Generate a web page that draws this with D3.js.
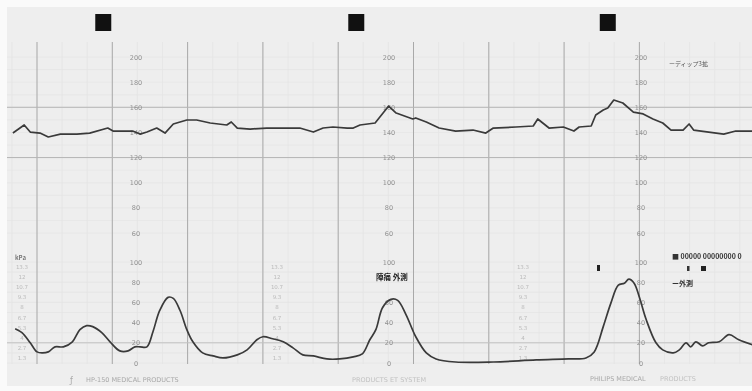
<!DOCTYPE html>
<html>
<head>
<meta charset="utf-8">
<script src="https://cdn.jsdelivr.net/npm/d3@7"></script>
<style>
  html, body { margin: 0; padding: 0; background: #fafafa; }
  svg { display: block; font-family: "Noto Sans CJK JP", "DejaVu Sans", sans-serif; will-change: transform; }
</style>
</head>
<body>
<div id="chart"></div>
<script>
// time in minutes, fetal heart rate in bpm
const fhrTrace = [
  [0.68, 139.5], [0.83, 145.9], [0.91, 140.3], [1.04, 139.5], [1.15, 136.4], [1.31, 138.7],
  [1.53, 138.7], [1.70, 139.5], [1.94, 143.5], [2.01, 141.1], [2.27, 141.1], [2.37, 138.7],
  [2.46, 140.3], [2.59, 143.5], [2.70, 139.5], [2.81, 146.7], [2.99, 149.9], [3.12, 149.9],
  [3.30, 147.5], [3.52, 145.9], [3.58, 148.3], [3.66, 143.5], [3.83, 142.7], [4.05, 143.5],
  [4.49, 143.5], [4.67, 140.3], [4.80, 143.5], [4.93, 144.3], [5.12, 143.5], [5.20, 143.5],
  [5.29, 145.9], [5.49, 147.5], [5.67, 161.0], [5.77, 155.4], [5.99, 150.7], [6.03, 151.5],
  [6.17, 148.3], [6.34, 143.5], [6.56, 141.1], [6.79, 141.9], [6.96, 139.5], [7.06, 143.5],
  [7.36, 144.3], [7.59, 145.1], [7.65, 150.7], [7.80, 143.5], [7.99, 144.3], [8.13, 141.1],
  [8.20, 144.3], [8.36, 145.1], [8.42, 153.9], [8.52, 157.8], [8.58, 159.4], [8.66, 165.8],
  [8.78, 163.4], [8.92, 156.2], [9.05, 154.7], [9.18, 150.7], [9.31, 147.5], [9.42, 141.9],
  [9.58, 141.9], [9.66, 146.7], [9.72, 141.9], [9.92, 140.3], [10.12, 138.7], [10.28, 141.1],
  [10.50, 141.1]
];

// time in minutes, uterine activity
const uaTrace = [
  [0.71, 34], [0.80, 30], [0.91, 20], [1.00, 11], [1.07, 10], [1.15, 11], [1.24, 16],
  [1.35, 16], [1.47, 21], [1.57, 33], [1.66, 37], [1.74, 36], [1.86, 30], [1.97, 21],
  [2.10, 12], [2.21, 12], [2.30, 16], [2.37, 16], [2.46, 16], [2.54, 31], [2.63, 52],
  [2.74, 65], [2.81, 64], [2.90, 52], [2.99, 33], [3.07, 21], [3.20, 10], [3.34, 7],
  [3.47, 5], [3.66, 8], [3.79, 13], [3.92, 23], [4.00, 26], [4.13, 24], [4.27, 21],
  [4.40, 15], [4.53, 8], [4.67, 7], [4.85, 4], [5.02, 4], [5.20, 6], [5.32, 9],
  [5.42, 23], [5.50, 33], [5.59, 55], [5.70, 63], [5.79, 62], [5.90, 48], [6.03, 26],
  [6.17, 10], [6.30, 4], [6.56, 1], [7.06, 1], [7.63, 3], [8.06, 4], [8.29, 5],
  [8.40, 11], [8.52, 36], [8.62, 59], [8.72, 77], [8.80, 79], [8.86, 83], [8.93, 79],
  [9.00, 65], [9.09, 43], [9.22, 20], [9.31, 13], [9.45, 10], [9.53, 13], [9.62, 20],
  [9.68, 16], [9.75, 21], [9.84, 17], [9.92, 20], [10.06, 21], [10.19, 28], [10.32, 23],
  [10.50, 18]
];

const eventMarks = [1.88, 5.24, 8.58];
const fhrTicks = [200, 180, 160, 140, 120, 100, 80, 60];
const uaTicks = [100, 80, 60, 40, 20, 0];
const uaTicksMid = [100, 60, 40, 20, 0]; // 80 is printed over by the note
const kpaTicks = ["13.3", "12", "10.7", "9.3", "8", "6.7", "5.3", "4", "2.7", "1.3"];
const minuteLines = [1, 2, 3, 4, 5, 6, 7, 8, 9];

const W = 752, H = 391;
const svg = d3.select("#chart").append("svg").attr("width", W).attr("height", H);

const x = d3.scaleLinear().domain([0, 10]).range([37 - 75.3, 37 + 9 * 75.3]);
const yF = d3.scaleLinear().domain([60, 200]).range([233, 57]);
const yU = d3.scaleLinear().domain([0, 100]).range([363, 262]);

// paper
svg.append("rect").attr("x", 7).attr("y", 7).attr("width", W - 7).attr("height", 379)
  .attr("fill", "#eeeeee");

// faint minor grid
const minor = svg.append("g").attr("stroke", "#e5e5e5").attr("stroke-width", 0.8);
minor.selectAll("line.h")
  .data(d3.range(60, 201, 10))
  .join("line")
  .attr("x1", 7).attr("x2", W)
  .attr("y1", d => yF(d)).attr("y2", d => yF(d));
minor.selectAll("line.u")
  .data(d3.range(0, 101, 10))
  .join("line")
  .attr("x1", 7).attr("x2", W)
  .attr("y1", d => yU(d)).attr("y2", d => yU(d));
minor.selectAll("line.v")
  .data(d3.range(0, 10.6, 1 / 3))
  .join("line")
  .attr("x1", d => x(d)).attr("x2", d => x(d))
  .attr("y1", 42).attr("y2", 364);

// major grid
svg.append("g").selectAll("line")
  .data(minuteLines)
  .join("line")
  .attr("x1", d => x(d)).attr("x2", d => x(d))
  .attr("y1", 42).attr("y2", 364)
  .attr("stroke", "#a9a9a9").attr("stroke-width", 1);

svg.append("g").selectAll("line")
  .data([160, 120])
  .join("line")
  .attr("x1", 7).attr("x2", W)
  .attr("y1", d => yF(d)).attr("y2", d => yF(d))
  .attr("stroke", "#b5b5b5").attr("stroke-width", 1);

svg.append("line")
  .attr("x1", 7).attr("x2", W)
  .attr("y1", yU(20)).attr("y2", yU(20))
  .attr("stroke", "#c2c2c2").attr("stroke-width", 1);

// scale columns printed on the paper
[136, 389, 641].forEach((cx, i) => {
  const gF = svg.append("g").attr("transform", `translate(${cx},0)`)
    .call(d3.axisLeft(yF).tickValues(fhrTicks).tickSize(0));
  const gU = svg.append("g").attr("transform", `translate(${cx},0)`)
    .call(d3.axisLeft(yU).tickValues(i === 1 ? uaTicksMid : uaTicks).tickSize(0));
  [gF, gU].forEach(g => {
    g.select(".domain").remove();
    g.selectAll("text")
      .attr("x", 0).attr("text-anchor", "middle")
      .attr("fill", "#909090").attr("font-size", 6.5)
      .attr("font-family", "DejaVu Sans");
  });
});

// kPa columns (faint)
[22, 277, 523].forEach(cx => {
  svg.append("g").selectAll("text")
    .data(kpaTicks)
    .join("text")
    .attr("x", cx).attr("y", (d, i) => yU(100 - i * 10) + 7)
    .attr("text-anchor", "middle")
    .attr("font-size", 5.5).attr("fill", "#bababa")
    .attr("font-family", "DejaVu Sans")
    .text(d => d);
});
svg.append("text").attr("x", 15).attr("y", 260).attr("font-size", 6)
  .attr("font-weight", "bold").attr("fill", "#777").text("kPa");

// event markers
svg.append("g").selectAll("rect")
  .data(eventMarks)
  .join("rect")
  .attr("x", d => x(d) - 8).attr("y", 14)
  .attr("width", 16).attr("height", 17)
  .attr("fill", "#111");

// traces
svg.append("path")
  .datum(fhrTrace)
  .attr("d", d3.line().x(d => x(d[0])).y(d => yF(d[1])))
  .attr("fill", "none").attr("stroke", "#3a3a3a").attr("stroke-width", 1.7)
  .attr("stroke-linejoin", "round");
svg.append("path")
  .datum(uaTrace)
  .attr("d", d3.line().x(d => x(d[0])).y(d => yU(d[1])).curve(d3.curveCatmullRom))
  .attr("fill", "none").attr("stroke", "#3a3a3a").attr("stroke-width", 1.7)
  .attr("stroke-linejoin", "round");

// printed annotations
svg.append("text").attr("x", 669).attr("y", 66).attr("font-size", 6)
  .attr("fill", "#555").text("ーディップ3拡");
svg.append("text").attr("x", 376).attr("y", 280).attr("font-size", 7.5)
  .attr("font-weight", "bold").attr("fill", "#222").text("陣痛 外測");
svg.append("rect").attr("x", 597).attr("y", 265).attr("width", 3).attr("height", 6).attr("fill", "#222");
svg.append("text").attr("x", 672).attr("y", 259).attr("font-size", 7)
  .attr("font-weight", "bold").attr("fill", "#333").text("■ 00000 00000000 0");
svg.append("rect").attr("x", 687).attr("y", 266).attr("width", 2.5).attr("height", 5).attr("fill", "#333");
svg.append("rect").attr("x", 701).attr("y", 266).attr("width", 5).attr("height", 5).attr("fill", "#222");
svg.append("text").attr("x", 672).attr("y", 286).attr("font-size", 7)
  .attr("font-weight", "bold").attr("fill", "#333").text("ー外測");

// footer text on paper
const foot = svg.append("g").attr("font-family", "DejaVu Sans").attr("font-size", 6.5).attr("fill", "#a8a8a8");
foot.append("text").attr("x", 70).attr("y", 383).attr("font-size", 8).text("ƒ");
foot.append("text").attr("x", 86).attr("y", 382).text("HP-150 MEDICAL PRODUCTS");
foot.append("text").attr("x", 352).attr("y", 382).attr("fill", "#c2c2c2").text("PRODUCTS ET SYSTEM");
foot.append("text").attr("x", 590).attr("y", 381).text("PHILIPS MEDICAL");
foot.append("text").attr("x", 660).attr("y", 381).attr("fill", "#c2c2c2").text("PRODUCTS");
</script>
</body>
</html>
